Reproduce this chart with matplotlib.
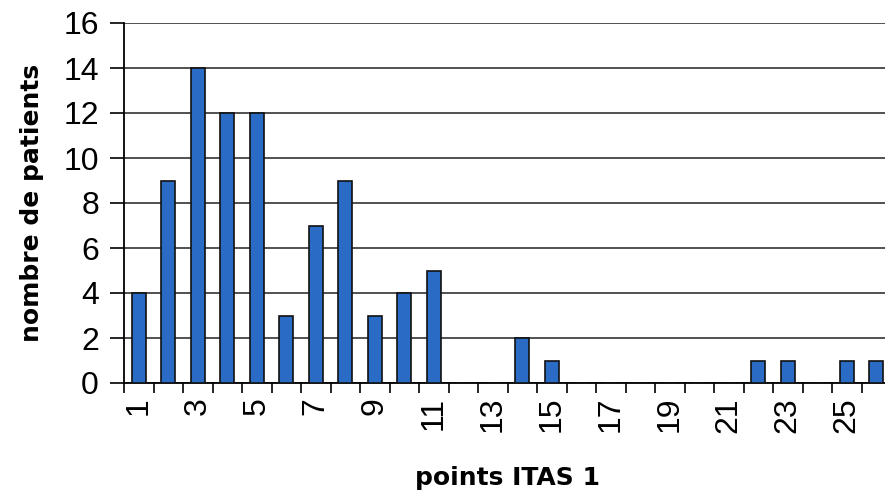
import matplotlib
matplotlib.use('Agg')
import matplotlib.pyplot as plt
import numpy as np

plt.rcParams['font.family'] = ['Liberation Sans', 'DejaVu Sans']

# points ITAS 1 -> nombre de patients
points = list(range(1, 27))
patients = [4, 9, 14, 12, 12, 3, 7, 9, 3, 4, 5, 0, 0, 2, 1,
            0, 0, 0, 0, 0, 0, 1, 1, 0, 1, 1]
tick_labels = [str(p) if p % 2 == 1 else '' for p in points]

fig = plt.figure(figsize=(8.85, 5.04), dpi=100)
ax = fig.add_axes([124/885, 121/504, 767/885, 360/504])

x = np.arange(len(points))
ax.bar(x, patients, width=0.48, color='#2a6bc6', edgecolor='#111111', linewidth=1.2, zorder=3)

ax.set_xlim(-0.5, len(points) - 0.5)
ax.set_ylim(0, 16)
ax.set_yticks(range(0, 17, 2))
ax.yaxis.grid(True, color='#222222', linewidth=1.1, zorder=0)

# ticks between categories, labels at the centre
ax.set_xticks(np.arange(-0.5, len(points), 1.0))
ax.set_xticklabels([])
ax.set_xticks(x, minor=True)
ax.set_xticklabels(tick_labels, minor=True, rotation=90, fontsize=23)
ax.tick_params(axis='x', which='minor', length=0, pad=10)
ax.tick_params(axis='x', which='major', length=7, width=1.2, direction='out')
ax.tick_params(axis='y', length=10, width=1.2, labelsize=23, pad=8)

for s in ['top', 'right']:
    ax.spines[s].set_visible(False)
ax.spines['left'].set_linewidth(1.3)
ax.spines['bottom'].set_linewidth(1.3)

ax.set_ylabel('nombre de patients', fontsize=18, fontweight='bold', labelpad=14,
              family=['DejaVu Sans'])
ax.set_xlabel('points ITAS 1', fontsize=18, fontweight='bold', labelpad=24,
              family=['DejaVu Sans'])

fig.savefig('out.png', dpi=100)
